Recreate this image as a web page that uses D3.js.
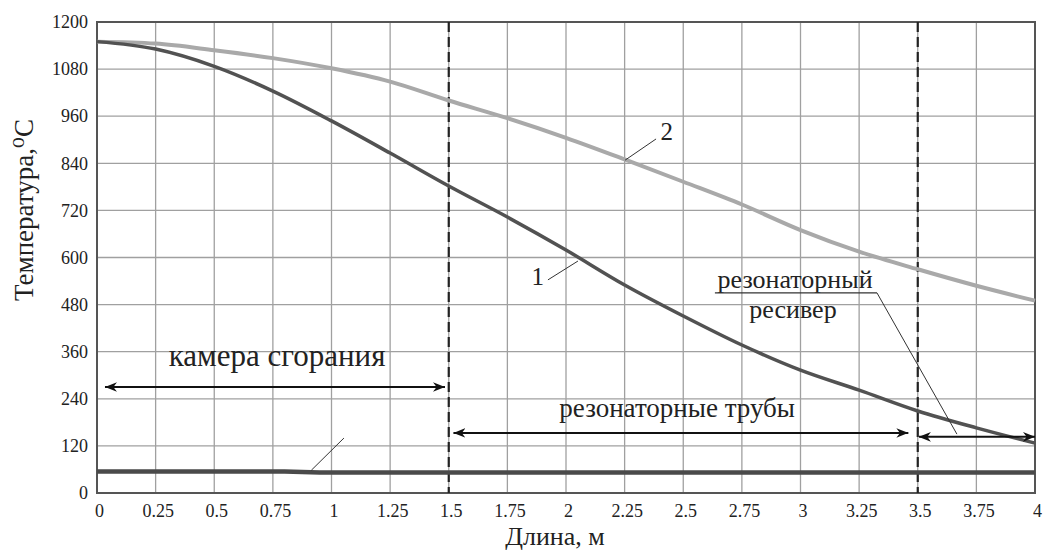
<!DOCTYPE html>
<html><head><meta charset="utf-8">
<script src="https://cdn.jsdelivr.net/npm/d3@7"></script>
<style>body{margin:0;background:#fff}svg{display:block}text{font-family:"Liberation Serif","Times New Roman","DejaVu Serif",serif;fill:#222}</style>
</head><body><svg id="c" width="1044" height="551"></svg>
<script>
const xTicks = [0,0.25,0.5,0.75,1,1.25,1.5,1.75,2,2.25,2.5,2.75,3,3.25,3.5,3.75,4];
const yTicks = [0,120,240,360,480,600,720,840,960,1080,1200];
const xs = [0,0.25,0.5,0.75,1,1.25,1.5,1.75,2,2.25,2.5,2.75,3,3.25,3.5,3.75,4];
const series1 = [1150,1131,1087,1024,948,866,782,703,619,530,451,377,313,262,209,166,127];
const series2 = [1150,1145,1128,1108,1082,1048,1000,955,905,850,793,735,670,615,570,528,490];
const flatX = [0,0.8,0.95,4];
const series3 = [55,55,52,52];
const boundaries = [1.5,3.5];
const labelX = "Длина, м";
const labelY = "Температура,⁰С";

const svg = d3.select("#c");
const m = {l:97,r:1035,t:22,b:493};
const x = d3.scaleLinear().domain([0,4]).range([m.l,m.r]);
const y = d3.scaleLinear().domain([0,1200]).range([m.b,m.t]);

// grid
svg.append("g").selectAll("line").data(xTicks).join("line")
  .attr("x1",d=>x(d)).attr("x2",d=>x(d)).attr("y1",m.t).attr("y2",m.b)
  .attr("stroke","#a0a0a0").attr("stroke-width",1.3);
svg.append("g").selectAll("line").data(yTicks).join("line")
  .attr("y1",d=>y(d)).attr("y2",d=>y(d)).attr("x1",m.l).attr("x2",m.r)
  .attr("stroke","#a0a0a0").attr("stroke-width",1.3);

// axes
const xa = svg.append("g").attr("transform",`translate(0,${m.b})`)
  .call(d3.axisBottom(x).tickValues(xTicks).tickSize(0).tickPadding(11).tickFormat(d=>String(d)));
const ya = svg.append("g").attr("transform",`translate(${m.l},0)`)
  .call(d3.axisLeft(y).tickValues(yTicks).tickSize(0).tickPadding(9).tickFormat(d=>String(d)));
[xa,ya].forEach(a=>{a.select(".domain").remove();a.selectAll("text").attr("font-size",18).attr("font-family","Liberation Serif, Times New Roman, serif").attr("fill","#222");});
xa.selectAll("text").attr("dx",2);

// frame
svg.append("rect").attr("x",m.l).attr("y",m.t).attr("width",m.r-m.l).attr("height",m.b-m.t)
  .attr("fill","none").attr("stroke","#555").attr("stroke-width",2);

// boundaries
svg.append("g").selectAll("line").data(boundaries).join("line")
  .attr("x1",d=>x(d)).attr("x2",d=>x(d)).attr("y1",m.t).attr("y2",m.b)
  .attr("stroke","#222").attr("stroke-width",2.2).attr("stroke-dasharray","10,5");

const line = d3.line().x(d=>x(d[0])).y(d=>y(d[1])).curve(d3.curveMonotoneX);
svg.append("path").datum(xs.map((v,i)=>[v,series2[i]])).attr("d",line)
  .attr("fill","none").attr("stroke","#a9a9a9").attr("stroke-width",4);
svg.append("path").datum(xs.map((v,i)=>[v,series1[i]])).attr("d",line)
  .attr("fill","none").attr("stroke","#525252").attr("stroke-width",3.5);
svg.append("path").datum(flatX.map((v,i)=>[v,series3[i]])).attr("d",d3.line().x(d=>x(d[0])).y(d=>y(d[1])))
  .attr("fill","none").attr("stroke","#4a4a4a").attr("stroke-width",4.5);

// arrow marker
const defs = svg.append("defs");
defs.append("marker").attr("id","ah").attr("viewBox","0 0 10 10").attr("refX",10).attr("refY",5)
  .attr("markerWidth",12).attr("markerHeight",12).attr("markerUnits","userSpaceOnUse").attr("orient","auto-start-reverse")
  .append("path").attr("d","M0,1 L10,5 L0,9 L3,5 Z").attr("fill","#111");
function darrow(x1,x2,yv){
  svg.append("line").attr("x1",x(x1)).attr("x2",x(x2)).attr("y1",y(yv)).attr("y2",y(yv))
    .attr("stroke","#111").attr("stroke-width",2).attr("marker-start","url(#ah)").attr("marker-end","url(#ah)");
}
darrow(0.034,1.484,270);
darrow(1.52,3.46,153);
darrow(3.505,4.0,143);

function txt(xv,yv,s,fs,anchor){
  return svg.append("text").attr("x",x(xv)).attr("y",y(yv)).attr("font-size",fs).attr("text-anchor",anchor||"middle").text(s);
}
txt(0.768,323,"камера сгорания",31);
txt(2.474,193,"резонаторные трубы",27);
txt(2.977,523,"резонаторный",26);
txt(2.968,446,"ресивер",26);
txt(1.88,530,"1",25);
txt(2.43,899,"2",25);

function leader(a,b,c,d,w){
  svg.append("line").attr("x1",x(a)).attr("y1",y(b)).attr("x2",x(c)).attr("y2",y(d)).attr("stroke","#333").attr("stroke-width",w||1);
}
leader(1.923,543,2.051,591);
leader(2.252,848,2.384,902);
leader(0.914,58,1.053,140);
leader(2.635,510,3.326,510,1.2);
leader(3.326,510,3.667,150);

// titles
svg.append("text").attr("x",555).attr("y",545).attr("text-anchor","middle").attr("font-size",26).text(labelX);
svg.append("text").attr("transform",`translate(33,210) rotate(-90)`).attr("text-anchor","middle").attr("font-size",27).text(labelY);
</script></body></html>
